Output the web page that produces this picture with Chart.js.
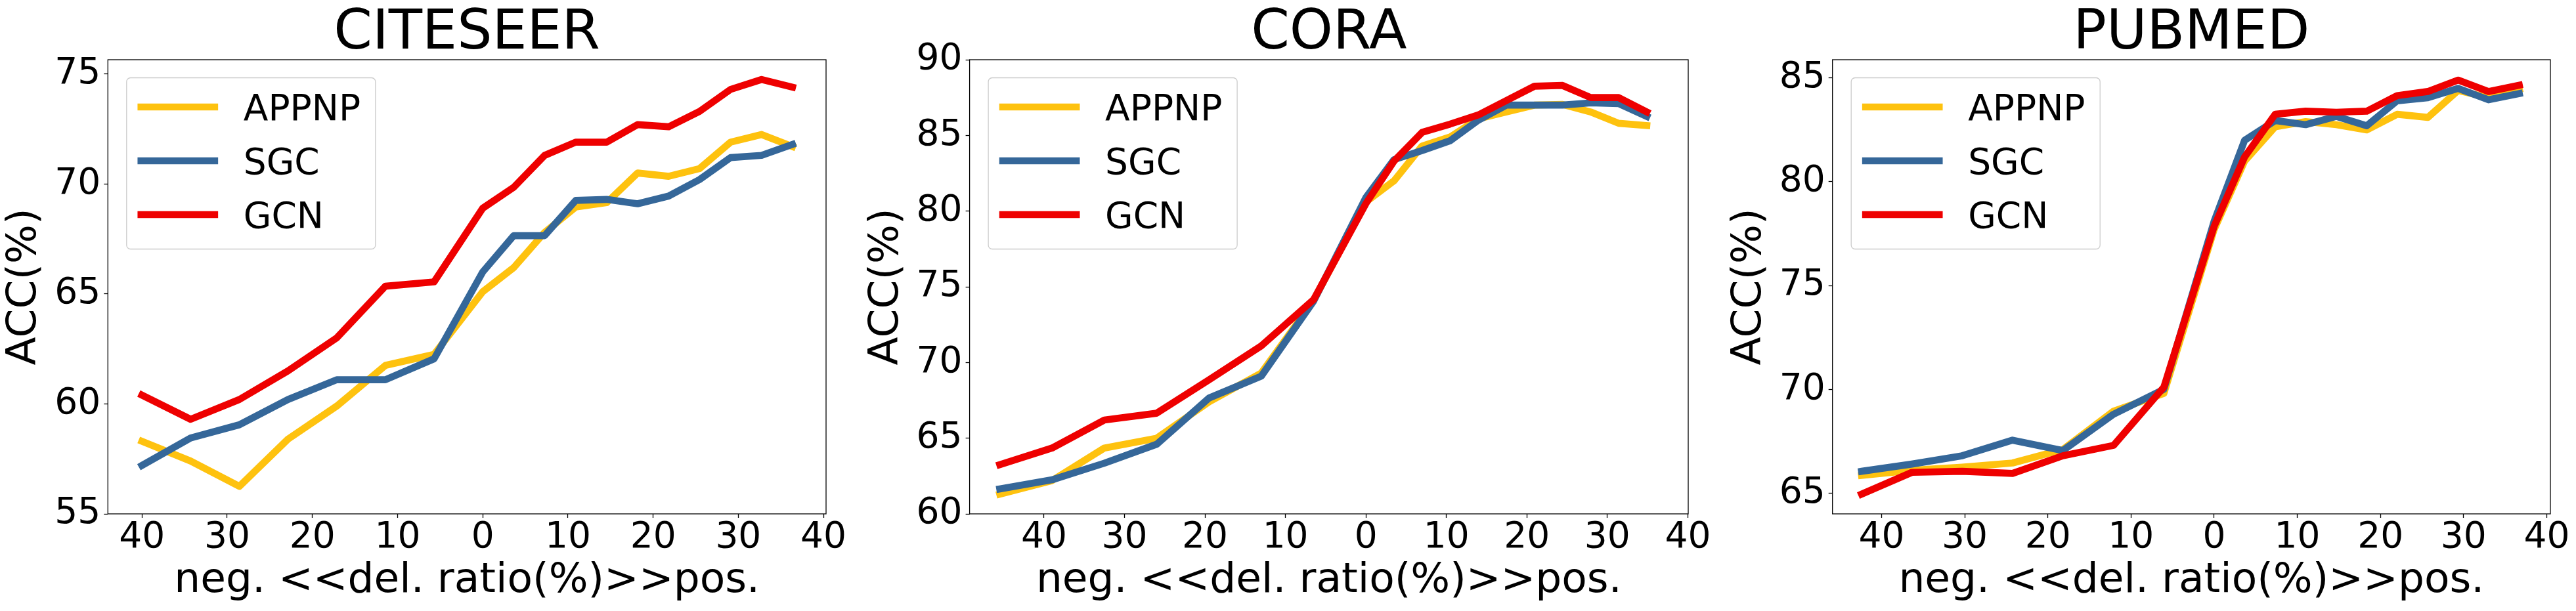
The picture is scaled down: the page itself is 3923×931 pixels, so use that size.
<!DOCTYPE html>
<html>
<head>
<meta charset="utf-8">
<script src="https://cdn.jsdelivr.net/npm/chart.js@4.4.0/dist/chart.umd.min.js"></script>
<style>
    html, body { margin: 0; padding: 0; background: #ffffff; }
    #wrap { position: relative; width: 3923px; height: 931px; overflow: hidden; }
    #wrap canvas { position: absolute; top: 0; }
</style>
</head>
<body>
<div id="wrap">
    <canvas id="citeseerChart"></canvas>
    <canvas id="coraChart"></canvas>
    <canvas id="pubmedChart"></canvas>
</div>
<script>
// Series names & colours (legend order)
const seriesNames = ['APPNP', 'SGC', 'GCN'];
const seriesColors = ['#fec20f', '#356799', '#ee0000'];

// Y ticks per panel
const citeseerYTicks = [55, 60, 65, 70, 75];
const coraYTicks = [60, 65, 70, 75, 80, 85, 90];
const pubmedYTicks = [65, 70, 75, 80, 85];

// X tick labels (shown as absolute values: neg. << 0 >> pos.)
const xTickValues = [-40, -30, -20, -10, 0, 10, 20, 30, 40];

// CITESEER
const citeseerX = [-40, -34.29, -28.57, -22.86, -17.14, -11.43, -5.71, 0, 3.64, 7.27, 10.91, 14.55, 18.18, 21.82, 25.45, 29.09, 32.73, 36.36];
const citeseerAPPNP = [58.3, 57.4, 56.25, 58.4, 59.9, 61.75, 62.25, 65.1, 66.2, 67.8, 68.95, 69.15, 70.5, 70.35, 70.7, 71.9, 72.25, 71.7];
const citeseerSGC = [57.2, 58.45, 59.05, 60.2, 61.1, 61.1, 62.05, 66.0, 67.65, 67.65, 69.25, 69.3, 69.1, 69.45, 70.2, 71.2, 71.3, 71.8];
const citeseerGCN = [60.4, 59.3, 60.2, 61.5, 63.0, 65.35, 65.55, 68.9, 69.85, 71.3, 71.9, 71.9, 72.7, 72.6, 73.3, 74.3, 74.75, 74.4];

// CORA
const coraX = [-45.5, -39, -32.5, -26, -19.5, -13, -6.5, 0, 3.49, 6.98, 10.47, 13.96, 17.45, 20.94, 24.43, 27.92, 31.41, 34.9];
const coraAPPNP = [61.3, 62.2, 64.35, 65.0, 67.4, 69.3, 74.1, 80.6, 82.0, 84.3, 84.9, 86.1, 86.55, 87.0, 87.05, 86.55, 85.8, 85.65];
const coraSGC = [61.65, 62.25, 63.35, 64.6, 67.65, 69.1, 74.05, 80.9, 83.4, 84.0, 84.65, 86.0, 87.0, 87.0, 87.0, 87.15, 87.1, 86.25];
const coraGCN = [63.25, 64.35, 66.2, 66.65, 68.85, 71.1, 74.15, 80.5, 83.3, 85.2, 85.75, 86.35, 87.3, 88.25, 88.3, 87.5, 87.5, 86.55];

// PUBMED
const pubmedX = [-42.4, -36.35, -30.3, -24.25, -18.2, -12.1, -6.05, 0, 3.67, 7.34, 11.0, 14.7, 18.35, 22.0, 25.7, 29.35, 33.0, 36.7];
const pubmedAPPNP = [65.85, 66.1, 66.25, 66.45, 67.1, 68.95, 69.8, 77.7, 81.0, 82.65, 82.9, 82.75, 82.5, 83.25, 83.1, 84.4, 84.05, 84.45];
const pubmedSGC = [66.05, 66.4, 66.8, 67.55, 67.05, 68.8, 70.0, 78.1, 82.0, 82.95, 82.75, 83.15, 82.7, 83.9, 84.05, 84.5, 83.95, 84.25];
const pubmedGCN = [64.95, 66.0, 66.05, 65.95, 66.8, 67.3, 70.1, 77.85, 81.2, 83.25, 83.4, 83.35, 83.4, 84.15, 84.35, 84.9, 84.35, 84.65];

const FONT = "'DejaVu Sans', 'Liberation Sans', sans-serif";

// Frame (all four spines) + panel title + matplotlib-style legend
const framePlugin = {
    id: 'frame',
    afterDraw(chart, args, opts) {
        const { ctx, chartArea: a } = chart;
        ctx.save();
        ctx.strokeStyle = '#000';
        ctx.lineWidth = 1.3;
        ctx.strokeRect(a.left, a.top, a.right - a.left, a.bottom - a.top);

        // title centred over the axes
        ctx.fillStyle = '#000';
        ctx.font = '84px ' + FONT;
        ctx.textAlign = 'center';
        ctx.textBaseline = 'alphabetic';
        ctx.fillText(opts.title, (a.left + a.right) / 2, 74);

        // legend box
        const bx = a.left + 28.5, by = a.top + 27.5, bw = 379, bh = 261, r = 6;
        ctx.beginPath();
        ctx.moveTo(bx + r, by);
        ctx.arcTo(bx + bw, by, bx + bw, by + bh, r);
        ctx.arcTo(bx + bw, by + bh, bx, by + bh, r);
        ctx.arcTo(bx, by + bh, bx, by, r);
        ctx.arcTo(bx, by, bx + bw, by, r);
        ctx.closePath();
        ctx.fillStyle = 'rgba(255,255,255,0.8)';
        ctx.fill();
        ctx.strokeStyle = '#cccccc';
        ctx.lineWidth = 1.3;
        ctx.stroke();

        const order = chart.data.datasets.map((d, i) => i).sort((i, j) => chart.data.datasets[i].legendIndex - chart.data.datasets[j].legendIndex);
        ctx.font = '55px ' + FONT;
        ctx.textAlign = 'left';
        order.forEach((di, k) => {
            const ds = chart.data.datasets[di];
            const ry = by + 44.5 + k * 82;
            ctx.beginPath();
            ctx.strokeStyle = ds.borderColor;
            ctx.lineWidth = 10.7;
            ctx.lineCap = 'square';
            ctx.moveTo(bx + 22, ry);
            ctx.lineTo(bx + 134, ry);
            ctx.stroke();
            ctx.fillStyle = '#000';
            ctx.fillText(ds.label, bx + 178, ry + 20);
        });
        ctx.restore();
    }
};

function buildPanel(canvasId, panel) {
    const canvas = document.getElementById(canvasId);
    canvas.width = panel.width;
    canvas.height = 931;
    canvas.style.left = panel.left + 'px';
    canvas.style.width = panel.width + 'px';
    canvas.style.height = '931px';

    const datasets = panel.series.map((vals, i) => ({
        label: seriesNames[i],
        legendIndex: i,
        data: panel.x.map((x, j) => ({ x: x, y: vals[j] })),
        borderColor: seriesColors[i],
        backgroundColor: seriesColors[i],
        borderWidth: 10.7,
        borderCapStyle: 'square',
        borderJoinStyle: 'round',
        pointRadius: 0,
        tension: 0,
        fill: false,
        order: 3 - i // GCN drawn on top
    }));

    const tickFont = { family: FONT, size: 55, lineHeight: 1.0 };
    const labelFont = { family: FONT, size: 63, lineHeight: 1.2 };

    return new Chart(canvas, {
        type: 'line',
        data: { datasets: datasets },
        options: {
            responsive: false,
            devicePixelRatio: 1,
            animation: false,
            layout: {
                padding: { left: panel.plotLeft - 164 - panel.left, right: panel.left + panel.width - panel.plotRight, top: 91, bottom: 0 }
            },
            plugins: {
                legend: { display: false },
                tooltip: { enabled: false },
                frame: { title: panel.title }
            },
            scales: {
                x: {
                    type: 'linear',
                    min: panel.xMin,
                    max: panel.xMax,
                    afterFit: s => { s.height = 148; },
                    afterBuildTicks: s => { s.ticks = xTickValues.map(v => ({ value: v })); },
                    ticks: {
                        autoSkip: false,
                        maxRotation: 0,
                        padding: 3,
                        color: '#000',
                        font: tickFont,
                        callback: v => String(Math.abs(v))
                    },
                    grid: { display: true, drawOnChartArea: false, tickLength: 6, tickColor: '#000', tickWidth: 1.3 },
                    border: { display: false },
                    title: { display: true, text: 'neg. <<del. ratio(%)>>pos.', color: '#000', font: labelFont, padding: { top: 0, bottom: 8 } }
                },
                y: {
                    type: 'linear',
                    min: panel.yMin,
                    max: panel.yMax,
                    afterFit: s => { s.width = 164; },
                    afterBuildTicks: s => { s.ticks = panel.yTicks.map(v => ({ value: v })); },
                    ticks: {
                        autoSkip: false,
                        padding: 5,
                        color: '#000',
                        font: tickFont
                    },
                    grid: { display: true, drawOnChartArea: false, tickLength: 6, tickColor: '#000', tickWidth: 1.3 },
                    border: { display: false },
                    title: { display: true, text: 'ACC(%)', color: '#000', font: labelFont, padding: { top: 0, bottom: 0 } }
                }
            }
        },
        plugins: [framePlugin]
    });
}

buildPanel('citeseerChart', {
    title: 'CITESEER', left: 0, width: 1307, plotLeft: 164.3, plotRight: 1258,
    x: citeseerX, series: [citeseerAPPNP, citeseerSGC, citeseerGCN],
    xMin: -44.0, xMax: 40.3, yMin: 55, yMax: 75.65, yTicks: citeseerYTicks
});
buildPanel('coraChart', {
    title: 'CORA', left: 1307, width: 1307, plotLeft: 1476.6, plotRight: 2571,
    x: coraX, series: [coraAPPNP, coraSGC, coraGCN],
    xMin: -49.25, xMax: 40.05, yMin: 60, yMax: 90, yTicks: coraYTicks
});
buildPanel('pubmedChart', {
    title: 'PUBMED', left: 2614, width: 1309, plotLeft: 2790.7, plotRight: 3884,
    x: pubmedX, series: [pubmedAPPNP, pubmedSGC, pubmedGCN],
    xMin: -45.9, xMax: 40.44, yMin: 64.0, yMax: 85.88, yTicks: pubmedYTicks
});
</script>
</body>
</html>
